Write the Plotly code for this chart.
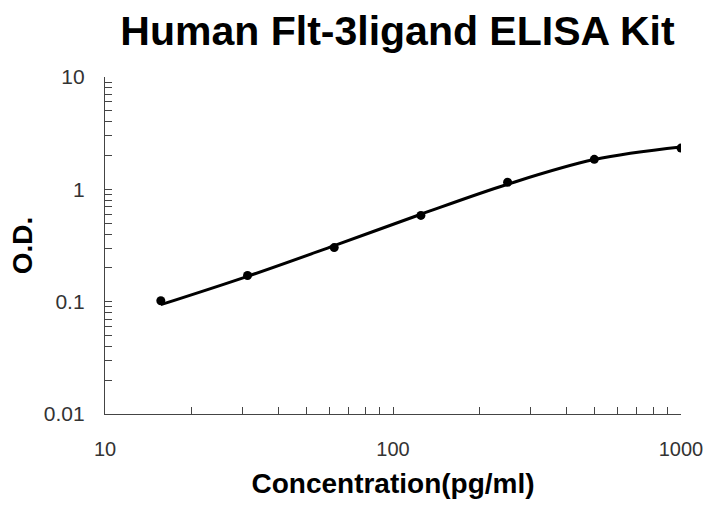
import plotly.graph_objects as go

conc = [15.625, 31.25, 62.5, 125, 250, 500, 1000]
od = [0.102, 0.171, 0.303, 0.586, 1.155, 1.85, 2.33]
fit_od = [0.094, 0.168, 0.315, 0.60, 1.11, 1.84, 2.38]

x_major = [10, 100, 1000]
x_labels = ["10", "100", "1000"]
y_major = [0.01, 0.1, 1, 10]
y_labels = ["0.01", "0.1", "1", "10"]
x_minor = [m * d for d in (10, 100) for m in range(2, 10)]
y_minor = [m * d for d in (0.01, 0.1, 1) for m in range(2, 10)]

fig = go.Figure()
fig.add_trace(go.Scatter(x=conc, y=fit_od, mode="lines",
                         line=dict(color="black", width=3, shape="spline", smoothing=1.0), hoverinfo="skip"))
fig.add_trace(go.Scatter(x=conc, y=od, mode="markers", marker=dict(color="black", size=9)))

fig.update_layout(
    width=704, height=506,
    margin=dict(l=105, r=23, t=77, b=92, autoexpand=False),
    paper_bgcolor="white", plot_bgcolor="white",
    showlegend=False,
    font=dict(family="Liberation Sans, Arial, sans-serif", color="#333"),
    title=dict(text="<b>Human Flt-3ligand ELISA Kit</b>", x=397.5 / 704, xref="container", xanchor="center",
               y=1 - 31 / 506, yanchor="middle",
               font=dict(size=41, color="black", family="Liberation Sans, Arial, sans-serif")),
)
axis_common = dict(showline=True, linecolor="#444", linewidth=1.3, ticks="inside", ticklen=7,
                   tickcolor="#444", tickwidth=1.2, showgrid=False, zeroline=False, automargin=False,
                   ticklabeloverflow="allow")
fig.update_xaxes(type="log", range=[1, 3], tickvals=x_major, ticktext=x_labels,
                 minor=dict(tickvals=x_minor, ticks="inside", ticklen=7, tickcolor="#444", tickwidth=1.2, showgrid=False),
                 ticklabelstandoff=17, tickfont=dict(size=20, color="#333"),
                 title=dict(text="<b>Concentration(pg/ml)</b>", font=dict(size=28, color="black"), standoff=14),
                 **axis_common)
fig.update_yaxes(type="log", range=[-2, 1], tickvals=y_major, ticktext=y_labels,
                 minor=dict(tickvals=y_minor, ticks="inside", ticklen=7, tickcolor="#444", tickwidth=1.2, showgrid=False),
                 ticklabelstandoff=15, tickfont=dict(size=21, color="#333"),
                 title=dict(text="<b>O.D.</b>", font=dict(size=28, color="black"), standoff=2),
                 **axis_common)

fig.write_html("out.html", config={"displayModeBar": False},
               post_script="document.body.style.margin='0';document.body.style.overflow='hidden';")
